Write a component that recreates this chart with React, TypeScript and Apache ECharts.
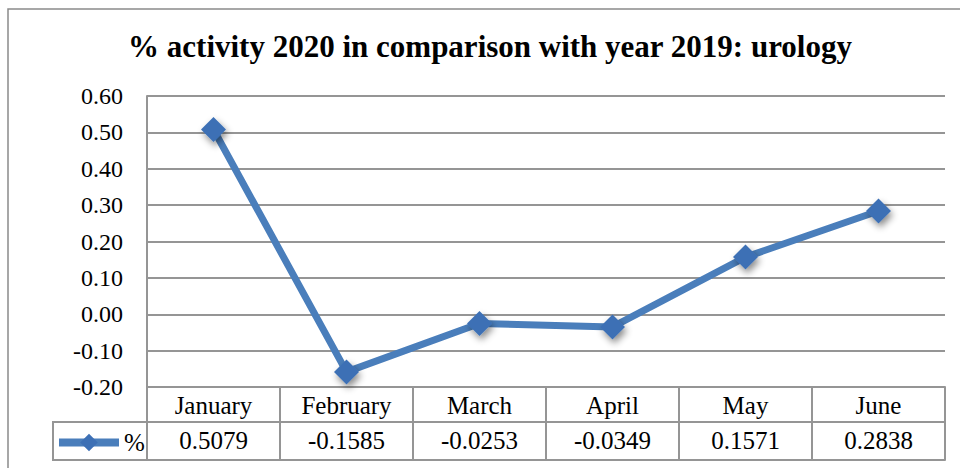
import React, { useEffect, useRef } from 'react';
import * as echarts from 'echarts';

const chartTitle = '% activity 2020 in comparison with year 2019: urology';
const categories = ['January', 'February', 'March', 'April', 'May', 'June'];
const values = [0.5079, -0.1585, -0.0253, -0.0349, 0.1571, 0.2838];
const seriesName = '%';
const yMin = -0.2;
const yMax = 0.6;
const yInterval = 0.1;

export default function App() {
  const ref = useRef<HTMLDivElement>(null);
  useEffect(() => {
    const chart = echarts.init(ref.current!, null, { renderer: 'svg' });
    const font = 'Liberation Serif';
    const gridColor = '#959595';
    const lineStyle = { color: gridColor, width: 2 };
    chart.setOption({
      animation: false,
      backgroundColor: '#ffffff',
      grid: { left: 147, right: 15, top: 96, bottom: 81 },
      legend: {
        data: [seriesName],
        left: 55,
        top: 430,
        itemWidth: 60,
        itemHeight: 22,
        padding: 0,
        itemGap: 0,
        selectedMode: false,
        lineStyle: { width: 8, color: '#4a7ebb' },
        textStyle: { fontFamily: font, fontSize: 25, color: '#000' },
      },
      graphic: [
        {
          type: 'rect',
          silent: true,
          z: -10,
          shape: { x: 8, y: 9, width: 1000, height: 500 },
          style: { fill: 'none', stroke: '#8a8a8a', lineWidth: 1.5 },
        },
        {
          type: 'line',
          silent: true,
          shape: { x1: 53, y1: 422, x2: 147, y2: 422 },
          style: { stroke: gridColor, lineWidth: 2 },
        },
        {
          type: 'line',
          silent: true,
          shape: { x1: 53, y1: 460, x2: 147, y2: 460 },
          style: { stroke: gridColor, lineWidth: 2 },
        },
        {
          type: 'line',
          silent: true,
          shape: { x1: 53, y1: 421, x2: 53, y2: 461 },
          style: { stroke: gridColor, lineWidth: 2 },
        },
        {
          type: 'text',
          silent: true,
          x: 490,
          y: 46,
          style: {
            text: chartTitle,
            fontFamily: font,
            fontWeight: 'bold',
            fontSize: 31,
            fill: '#000',
            align: 'center',
            verticalAlign: 'middle',
          },
        },
      ],
      xAxis: [
        {
          type: 'category',
          data: categories,
          position: 'bottom',
          boundaryGap: true,
          axisLine: { show: true, onZero: false, lineStyle },
          axisTick: { show: true, inside: false, interval: 0, length: 73, lineStyle },
          axisLabel: { interval: 0, margin: 6, color: '#000', fontFamily: font, fontSize: 25 },
          splitLine: { show: false },
        },
        {
          type: 'category',
          data: values.map((v) => v.toFixed(4)),
          position: 'bottom',
          offset: 35,
          boundaryGap: true,
          axisLine: { show: true, onZero: false, lineStyle },
          axisTick: { show: false },
          axisLabel: { interval: 0, margin: 6, color: '#000', fontFamily: font, fontSize: 25 },
          splitLine: { show: false },
        },
        {
          type: 'category',
          data: categories,
          position: 'bottom',
          offset: 73,
          boundaryGap: true,
          axisLine: { show: true, onZero: false, lineStyle },
          axisTick: { show: false },
          axisLabel: { show: false },
          splitLine: { show: false },
        },
      ],
      yAxis: {
        type: 'value',
        min: yMin,
        max: yMax,
        interval: yInterval,
        axisLine: { show: true, lineStyle },
        axisTick: { show: false },
        splitLine: { show: true, lineStyle },
        axisLabel: {
          margin: 24,
          color: '#000',
          fontFamily: font,
          fontSize: 24,
          formatter: (v: number) => (Math.abs(v) < 1e-9 ? 0 : v).toFixed(2),
        },
      },
      series: [
        {
          type: 'line',
          name: seriesName,
          xAxisIndex: 0,
          data: values,
          symbol: 'diamond',
          symbolSize: 25,
          lineStyle: { color: '#4a7ebb', width: 7 },
          itemStyle: {
            color: '#3d70b5',
            shadowBlur: 7,
            shadowColor: 'rgba(0,0,0,0.45)',
            shadowOffsetX: 2,
            shadowOffsetY: 4,
          },
          emphasis: { disabled: true },
        },
      ],
    });
    return () => chart.dispose();
  }, []);
  return <div ref={ref} style={{ position: 'absolute', left: 0, top: 0, width: 960, height: 468 }} />;
}
